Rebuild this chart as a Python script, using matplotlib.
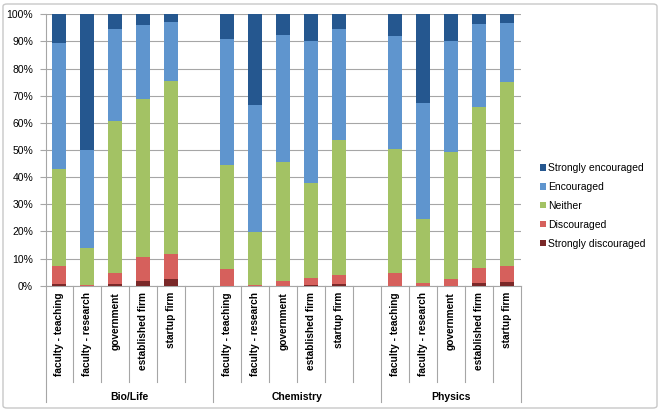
import matplotlib
matplotlib.use("Agg")
import matplotlib.pyplot as plt
import matplotlib.transforms as mtransforms
from matplotlib.patches import FancyBboxPatch
from matplotlib.lines import Line2D
import numpy as np

groups = ["Bio/Life", "Chemistry", "Physics"]
careers = ["faculty - teaching", "faculty - research", "government",
           "established firm", "startup firm"]
levels = ["Strongly discouraged", "Discouraged", "Neither", "Encouraged",
          "Strongly encouraged"]

# percentages per group, one list per response level (order of careers)
bio_sd = [0.6, 0.0, 0.6, 1.6, 2.6]
bio_d = [6.5, 0.4, 4.2, 9.1, 9.1]
bio_n = [35.8, 13.5, 55.8, 58.0, 63.9]
bio_e = [46.4, 36.0, 33.9, 27.5, 21.6]
bio_se = [10.7, 50.1, 5.5, 3.8, 2.8]

chem_sd = [0.0, 0.0, 0.0, 0.3, 0.6]
chem_d = [6.0, 0.4, 1.8, 2.6, 3.5]
chem_n = [38.3, 19.4, 43.8, 34.8, 49.7]
chem_e = [46.6, 46.7, 46.7, 52.6, 40.8]
chem_se = [9.1, 33.5, 7.7, 9.7, 5.4]

phys_sd = [0.0, 0.0, 0.0, 0.9, 1.2]
phys_d = [4.8, 0.9, 2.6, 5.6, 5.9]
phys_n = [45.7, 23.8, 46.8, 59.2, 68.1]
phys_e = [41.5, 42.5, 40.9, 30.9, 21.7]
phys_se = [8.0, 32.8, 9.7, 3.4, 3.1]

colors = ["#7a2828", "#d6605c", "#a3c264", "#5f95ce", "#25578f"]

plt.rcParams["font.family"] = ["Liberation Sans", "DejaVu Sans"]

W, H = 661, 411
fig = plt.figure(figsize=(W / 100, H / 100), dpi=100)

# outer chart border
fig.patches.append(FancyBboxPatch((3 / W, 3 / H), 654 / W, 404 / H,
                                  boxstyle="round,pad=0,rounding_size=0.006",
                                  transform=fig.transFigure, fill=False,
                                  edgecolor="#c8c8c8", linewidth=1.0))

left, right, top, bottom = 45.5, 521, 14.3, 285.7
ax = fig.add_axes([left / W, 1 - bottom / H, (right - left) / W, (bottom - top) / H])

data = [
    [bio_sd, bio_d, bio_n, bio_e, bio_se],
    [chem_sd, chem_d, chem_n, chem_e, chem_se],
    [phys_sd, phys_d, phys_n, phys_e, phys_se],
]

# one blank slot between groups
slot = 0
xs_all = []
for g, gdata in enumerate(data):
    xs = np.arange(slot, slot + len(careers))
    xs_all.append(xs)
    base = np.zeros(len(careers))
    for lvl, vals in enumerate(gdata):
        ax.bar(xs, vals, bottom=base, width=0.5, color=colors[lvl],
               label=levels[lvl] if g == 0 else None, zorder=3)
        base += np.array(vals)
    slot += len(careers) + 1

nslots = slot - 1
ax.set_xlim(-0.5, nslots - 0.5)
ax.set_ylim(0, 100)
ax.set_yticks(np.arange(0, 101, 10))
ax.set_yticklabels([f"{v}%" for v in range(0, 101, 10)], fontsize=7.5)
ax.yaxis.grid(True, color="#a6a6a6", linewidth=0.8, zorder=0)
ax.tick_params(axis="y", length=4, color="#a6a6a6", pad=5)
ax.set_xticks([])
for s in ["top", "right"]:
    ax.spines[s].set_visible(False)
for s in ["left", "bottom"]:
    ax.spines[s].set_color("#a6a6a6")
    ax.spines[s].set_linewidth(0.8)

# category axis: labels and separators drawn below the plot
trans = mtransforms.blended_transform_factory(ax.transData, ax.transAxes)
short_y = -(382 - bottom) / (bottom - top)
long_y = -(402 - bottom) / (bottom - top)
label_y = -(292 - bottom) / (bottom - top)
group_y = -(397 - bottom) / (bottom - top)

group_edges = [-0.5]
for g, xs in enumerate(xs_all):
    for i, x in enumerate(xs):
        ax.text(x, label_y, careers[i], transform=trans, rotation=90,
                ha="center", va="top", fontsize=7.3, fontweight="bold")
        if i < len(xs) - 1 or g < len(xs_all) - 1:
            ax.add_line(Line2D([x + 0.5, x + 0.5], [0, short_y], transform=trans,
                               color="#a6a6a6", linewidth=0.8, clip_on=False))
    group_edges.append(xs[-1] + 0.5 if g == len(xs_all) - 1 else xs[-1] + 1.5)

for e in group_edges:
    ax.add_line(Line2D([e, e], [0, long_y], transform=trans,
                       color="#a6a6a6", linewidth=0.8, clip_on=False))
for g in range(len(groups)):
    cx = (group_edges[g] + group_edges[g + 1]) / 2
    ax.text(cx, group_y, groups[g], transform=trans, ha="center", va="center",
            fontsize=7.5, fontweight="bold")

handles, labels = ax.get_legend_handles_labels()
fig.legend(handles[::-1], labels[::-1], loc="center left",
           bbox_to_anchor=(536 / W, 1 - 206 / H), frameon=False, fontsize=7.5,
           handlelength=0.55, handleheight=0.55, handletextpad=0.25,
           labelspacing=0.85, borderaxespad=0)

fig.savefig("out.png", dpi=100)
